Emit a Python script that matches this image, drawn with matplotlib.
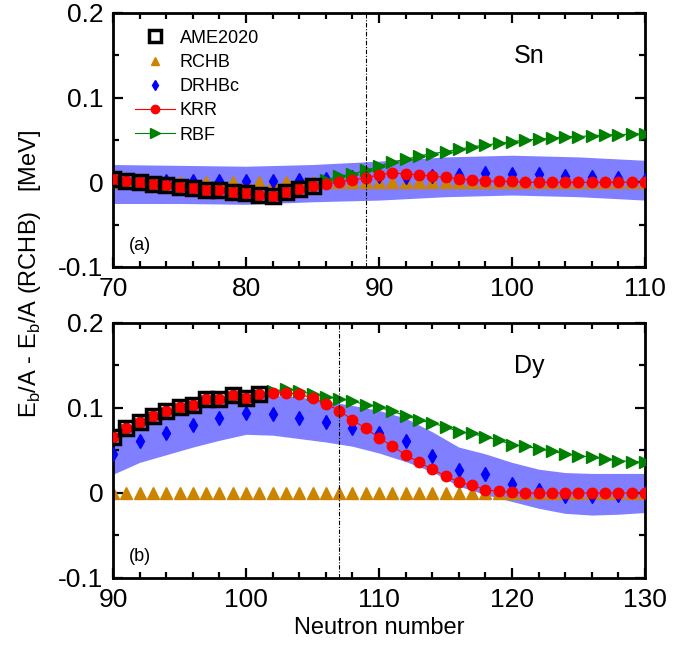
import matplotlib
matplotlib.use('Agg')
import matplotlib.pyplot as plt
import numpy as np

plt.rcParams['font.family'] = ['Liberation Sans', 'DejaVu Sans']
plt.rcParams['axes.unicode_minus'] = False

# ---- Sn (top panel) ----
N_sn = list(range(70, 111))
N_sn_ame = list(range(70, 86))
N_sn_even = list(range(70, 111, 2))
sn_ame = [0.004, 0.001, 0.000, -0.002, -0.003, -0.006, -0.007, -0.009, -0.009, -0.012,
          -0.013, -0.015, -0.016, -0.011, -0.008, -0.004]
sn_krr = [0.004, 0.001, 0.000, -0.002, -0.003, -0.006, -0.007, -0.009, -0.009, -0.012,
          -0.013, -0.015, -0.016, -0.011, -0.008, -0.004, -0.002, 0.000, 0.003, 0.005,
          0.009, 0.011, 0.010, 0.009, 0.007, 0.006, 0.004, 0.003, 0.002, 0.001,
          0.001, 0.000, 0.000, 0.000, 0.000, 0.000, 0.000, 0.000, 0.000, 0.000, 0.000]
sn_rbf = [0.003, -0.001, 0.000, -0.002, -0.004, -0.006, -0.008, -0.010, -0.010, -0.013,
          -0.014, -0.016, -0.017, -0.012, -0.008, -0.003, 0.003, 0.007, 0.010, 0.014,
          0.019, 0.024, 0.027, 0.031, 0.034, 0.036, 0.039, 0.042, 0.044, 0.046,
          0.048, 0.050, 0.051, 0.052, 0.054, 0.054, 0.055, 0.056, 0.056, 0.057, 0.057]
sn_rchb = [0.0] * 41
sn_drhbc = [0.002, 0.002, 0.001, 0.002, 0.002, 0.001, 0.002, 0.003, 0.004, 0.006,
            0.007, 0.006, 0.008, 0.009, 0.011, 0.010, 0.010, 0.008, 0.006, 0.005, 0.003]
N_sn_band = [70, 75, 80, 85, 90, 95, 100, 105, 110]
sn_band_hi = [0.021, 0.020, 0.019, 0.021, 0.025, 0.030, 0.032, 0.030, 0.026]
sn_band_lo = [-0.025, -0.025, -0.026, -0.023, -0.021, -0.017, -0.015, -0.017, -0.021]

# ---- Dy (bottom panel) ----
N_dy = list(range(90, 131))
N_dy_ame = list(range(90, 102))
N_dy_even = list(range(90, 131, 2))
dy_ame = [0.066, 0.076, 0.083, 0.091, 0.096, 0.101, 0.104, 0.110, 0.111, 0.115, 0.112, 0.117]
dy_krr = [0.066, 0.076, 0.083, 0.091, 0.096, 0.101, 0.104, 0.110, 0.111, 0.115,
          0.112, 0.117, 0.118, 0.118, 0.116, 0.112, 0.105, 0.097, 0.086, 0.076,
          0.065, 0.055, 0.045, 0.036, 0.028, 0.020, 0.013, 0.009, 0.004, 0.002,
          0.001, 0.000, 0.000, 0.000, 0.000, 0.000, 0.000, 0.000, 0.000, 0.000, 0.000]
dy_rbf = [0.065, 0.074, 0.081, 0.089, 0.094, 0.099, 0.102, 0.108, 0.109, 0.113,
          0.110, 0.115, 0.120, 0.122, 0.120, 0.116, 0.113, 0.111, 0.108, 0.104,
          0.101, 0.096, 0.091, 0.086, 0.082, 0.078, 0.072, 0.070, 0.066, 0.062,
          0.057, 0.055, 0.052, 0.049, 0.046, 0.044, 0.042, 0.040, 0.038, 0.037, 0.036]
dy_rchb = [0.0] * 41
dy_drhbc = [0.046, 0.061, 0.071, 0.080, 0.088, 0.094, 0.093, 0.088, 0.084, 0.076,
            0.070, 0.061, 0.044, 0.027, 0.022, 0.011, 0.004, -0.003, -0.004, -0.002, 0.000]
dy_band_hi = [0.067, 0.080, 0.090, 0.100, 0.108, 0.112, 0.115, 0.113, 0.108, 0.103,
              0.097, 0.088, 0.072, 0.054, 0.046, 0.036, 0.028, 0.024, 0.023, 0.023, 0.023]
dy_band_lo = [0.022, 0.036, 0.045, 0.054, 0.062, 0.069, 0.068, 0.064, 0.060, 0.055,
              0.047, 0.037, 0.025, 0.008, -0.002, -0.010, -0.018, -0.024, -0.026, -0.025, -0.023]

ylabels = ['-0.1', '0', '0.1', '0.2']
orange = '#CC8400'
green = '#008000'
band_col = '#7F7FFF'


def draw_panel(ax, N, N_ame, N_even, ame, krr, rbf, rchb, drhbc, Nb, bhi, blo,
               xlim, vline, name, tag):
    ax.fill_between(Nb, blo, bhi, color=band_col, lw=0, zorder=1)
    ax.plot(N, rchb, '^', color=orange, ms=8, ls='none', zorder=2, label='RCHB')
    ax.plot(N_even, drhbc, 'd', color='blue', ms=7, ls='none', zorder=3, label='DRHBc')
    ax.plot(N, rbf, '>-', color=green, ms=8.5, lw=0.8, zorder=4, label='RBF')
    ax.plot(N, krr, 'o-', color='red', ms=7.5, lw=0.8, zorder=5, label='KRR')
    ax.plot(N_ame, ame, 's', mfc='none', mec='black', mew=2.5, ms=10, ls='none',
            zorder=6, label='AME2020')
    ax.axvline(vline, color='black', ls=(0, (4, 1.5, 1, 1.5)), lw=0.8, zorder=7)
    ax.set_xlim(xlim)
    ax.set_ylim(-0.1, 0.2)
    ax.set_xticks(np.arange(xlim[0], xlim[1] + 1, 10))
    ax.set_xticks(np.arange(xlim[0], xlim[1] + 1, 2), minor=True)
    ax.set_yticks([-0.1, 0.0, 0.1, 0.2])
    ax.set_yticklabels(ylabels)
    ax.set_yticks(np.arange(-0.1, 0.21, 0.05), minor=True)
    ax.tick_params(which='both', direction='in', top=True, right=True, width=1.6,
                   labelsize=19, pad=7)
    ax.tick_params(which='major', length=7)
    ax.tick_params(which='minor', length=4.5)
    for s in ax.spines.values():
        s.set_linewidth(2.0)
    ax.text(0.782, 0.83, name, transform=ax.transAxes, fontsize=18,
            ha='center', va='center')
    ax.text(0.05, 0.085, tag, transform=ax.transAxes, fontsize=13,
            ha='center', va='center')


fig = plt.figure(figsize=(6.96, 6.55), dpi=100)
ax1 = fig.add_axes([0.1624, 0.5924, 0.7643, 0.3878])
ax2 = fig.add_axes([0.1624, 0.1176, 0.7643, 0.3893])

draw_panel(ax1, N_sn, N_sn_ame, N_sn_even, sn_ame, sn_krr, sn_rbf, sn_rchb, sn_drhbc,
           N_sn_band, sn_band_hi, sn_band_lo, (70, 110), 89, 'Sn', '(a)')
draw_panel(ax2, N_dy, N_dy_ame, N_dy_even, dy_ame, dy_krr, dy_rbf, dy_rchb, dy_drhbc,
           N_dy_even, dy_band_hi, dy_band_lo, (90, 130), 107, 'Dy', '(b)')

h, l = ax1.get_legend_handles_labels()
order = [4, 0, 1, 3, 2]
ax1.legend([h[i] for i in order], [l[i] for i in order], loc='upper left',
           bbox_to_anchor=(0.025, 0.97), frameon=False, fontsize=13,
           handlelength=2.2, handletextpad=0.25, labelspacing=0.4, borderpad=0,
           markerscale=0.8)

ax2.set_xlabel('Neutron number', fontsize=17, labelpad=4)
fig.text(0.043, 0.582, r'E$_\mathregular{b}$/A - E$_\mathregular{b}$/A (RCHB)   [MeV]',
         rotation=90, fontsize=17, ha='center', va='center')

fig.savefig('out.png', dpi=100)
